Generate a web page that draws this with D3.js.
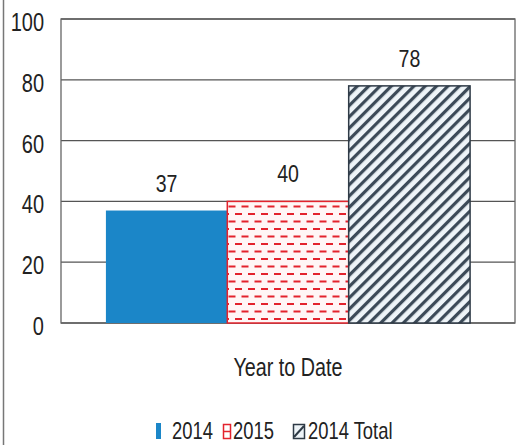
<!DOCTYPE html>
<html><head><meta charset="utf-8">
<script src="https://cdn.jsdelivr.net/npm/d3@7"></script>
<style>body{margin:0;background:#fff}svg{display:block}</style>
</head><body>
<script>
const category = ["Year to Date"];
const seriesNames = ["2014", "2015", "2014 Total"];
const seriesValues = [37, 40, 78];
const yTicks = [0, 20, 40, 60, 80, 100];

const W = 523, H = 445;
const FONT = "'Liberation Sans Narrow', 'Arial Narrow', sans-serif";
const svg = d3.select("body").append("svg").attr("width", W).attr("height", H);

const defs = svg.append("defs");
// red dashed pattern
const pr = defs.append("pattern").attr("id","dash").attr("patternUnits","userSpaceOnUse")
  .attr("width",13).attr("height",15);
pr.append("rect").attr("width",13).attr("height",15).attr("fill","#fff6f6");
pr.append("rect").attr("x",1).attr("y",3).attr("width",7).attr("height",2).attr("fill","#e3232d");
pr.append("rect").attr("x",7.5).attr("y",10.5).attr("width",7).attr("height",2).attr("fill","#e3232d");
pr.append("rect").attr("x",-5.5).attr("y",10.5).attr("width",7).attr("height",2).attr("fill","#e3232d");
// diagonal hatch
const ph = defs.append("pattern").attr("id","hatch").attr("patternUnits","userSpaceOnUse")
  .attr("width",8).attr("height",8).attr("patternTransform","rotate(45)");
ph.append("rect").attr("width",8).attr("height",8).attr("fill","#eef4f8");
ph.append("rect").attr("x",0).attr("y",0).attr("width",3.2).attr("height",8).attr("fill","#3c4a58");

const fills = ["#1b86c8", "url(#dash)", "url(#hatch)"];
const strokes = ["none", "#e3232d", "#2e3a46"];

const x0 = 61, x1 = 515, yTop = 19, yBot = 323;
const y = d3.scaleLinear().domain([0,100]).range([yBot, yTop]);
const xc = d3.scaleBand().domain(category).range([x0, x1]);
const xs = d3.scaleBand().domain(seriesNames).range([0, xc.bandwidth()]).paddingInner(0).paddingOuter(0.37);

// outer left border
svg.append("line").attr("x1",3.5).attr("x2",3.5).attr("y1",0).attr("y2",H).attr("stroke","#777").attr("stroke-width",1.5);

// gridlines
svg.append("g").selectAll("line").data(yTicks).join("line")
  .attr("x1",x0).attr("x2",x1).attr("y1",d=>y(d)).attr("y2",d=>y(d))
  .attr("stroke","#555").attr("stroke-width",1.3);
svg.append("rect").attr("x",x0).attr("y",yTop).attr("width",x1-x0).attr("height",yBot-yTop)
  .attr("fill","none").attr("stroke","#666").attr("stroke-width",1.3);

function txt(g, xx, yy, s, size, sx, anchor){
  return g.append("text").attr("transform",`translate(${xx},${yy}) scale(${sx},1)`)
    .attr("text-anchor",anchor||"middle").attr("font-family",FONT).attr("font-size",size)
    .attr("fill","#222").text(s);
}

// y tick labels
const ax = svg.append("g");
yTicks.forEach(t => txt(ax, 44, y(t)+12, t, 25, 0.8, "end"));

// bars
const bx = c => xc(category[0]) + xs(c);
svg.append("g").selectAll("rect").data(seriesValues).join("rect")
  .attr("x",(d,i)=>bx(seriesNames[i])).attr("width",xs.bandwidth())
  .attr("y",d=>y(d)).attr("height",d=>yBot-y(d))
  .attr("fill",(d,i)=>fills[i]).attr("stroke",(d,i)=>strokes[i]).attr("stroke-width",1.5);

// data labels
const lg = svg.append("g");
seriesValues.forEach((v,i)=> txt(lg, bx(seriesNames[i])+xs.bandwidth()/2, y(v)-19, v, 23, 0.85));

// x category label
txt(svg, xc(category[0])+xc.bandwidth()/2, 376, category[0], 25, 0.79);

// legend
const leg = svg.append("g");
const LY = 439;
leg.append("rect").attr("x",156).attr("y",423).attr("width",5).attr("height",16).attr("fill","#1b86c8");
txt(leg, 172, LY, seriesNames[0], 23, 0.8, "start");
leg.append("rect").attr("x",223.5).attr("y",424.5).attr("width",7).attr("height",14).attr("fill","#fff").attr("stroke","#e3232d").attr("stroke-width",1.5);
leg.append("line").attr("x1",223.5).attr("x2",230.5).attr("y1",431.5).attr("y2",431.5).attr("stroke","#e3232d").attr("stroke-width",1.5);
txt(leg, 233, LY, seriesNames[1], 23, 0.8, "start");
leg.append("rect").attr("x",293.5).attr("y",424.5).attr("width",11).attr("height",14).attr("fill","#eef4f8").attr("stroke","#2e3a46").attr("stroke-width",1.5);
leg.append("line").attr("x1",294).attr("x2",304).attr("y1",437).attr("y2",426).attr("stroke","#2e3a46").attr("stroke-width",2);
txt(leg, 308, LY, seriesNames[2], 23, 0.8, "start");
</script>
</body></html>
